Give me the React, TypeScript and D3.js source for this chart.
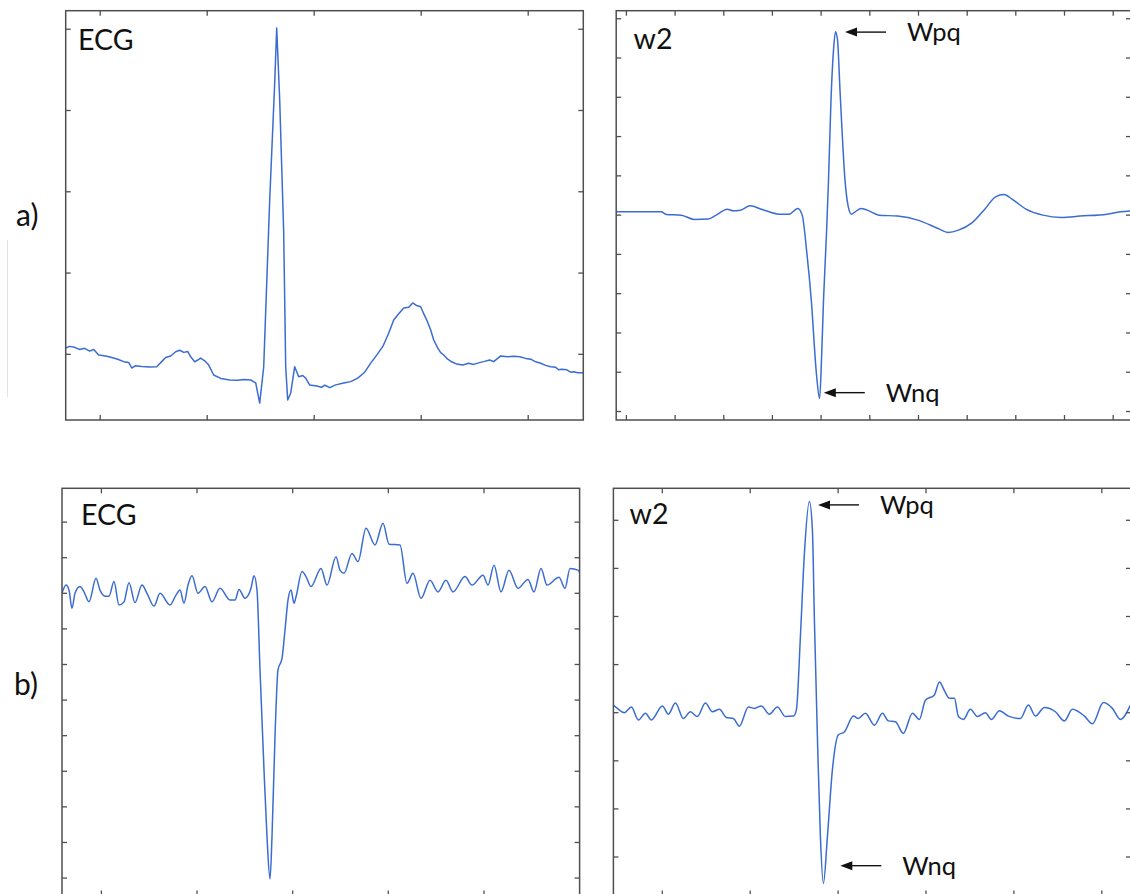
import React from 'react';
import * as d3 from 'd3';

// ---------- Data (sample index, amplitude) ----------
// Panel a) ECG (amplitude in mV)
const ecgA_t = [0,4,9,14,19,24,28,33,40,46,52,58,63,66,70,76,84,91,96,100,105,110,114,118,122,125,129,132,135,139,143,148,155,164,172,178,185,190,194,198,204,209,211,214,218,220,222,225,229,233,237,240,244,251,256,259,264,270,278,285,292,299,305,311,317,323,328,333,338,343,347,351,355,358,361,365,368,372,375,378,382,386,391,397,403,408,412,418,424,428,435,442,448,454,460,465,470,475,480,485,490,493,496,501,505,508,512,518];
const ecgA_v = [0.039,0.049,0.043,0.030,0.037,0.020,0.030,-0.004,-0.010,-0.020,-0.030,-0.045,-0.050,-0.084,-0.070,-0.075,-0.078,-0.076,-0.045,-0.020,-0.010,0.016,0.025,0.012,0.018,-0.015,-0.046,-0.035,-0.023,-0.040,-0.066,-0.127,-0.148,-0.158,-0.160,-0.155,-0.158,-0.176,-0.300,-0.078,0.950,1.670,2.008,1.565,0.746,-0.078,-0.281,-0.238,-0.076,-0.138,-0.130,-0.146,-0.189,-0.195,-0.203,-0.190,-0.205,-0.188,-0.177,-0.168,-0.146,-0.110,-0.054,-0.005,0.047,0.130,0.211,0.250,0.285,0.290,0.316,0.300,0.293,0.250,0.211,0.150,0.088,0.040,0.010,-0.004,-0.030,-0.046,-0.060,-0.066,-0.055,-0.062,-0.054,-0.045,-0.035,-0.045,-0.010,-0.015,-0.012,-0.015,-0.025,-0.030,-0.046,-0.055,-0.068,-0.076,-0.080,-0.095,-0.092,-0.095,-0.110,-0.107,-0.113,-0.113];
const ecgA_xTicks = [34.5,141.5,248.5,355.5,462.5];
const ecgA_yTicks = [0,0.5,1,1.5,2];

// Panel a) w2 wavelet detail
const w2A_t = [0,45,50,65,78,92,100,111,117,124,134,146,163,173,181.6,186,190.7,195.1,200.2,203.4,205.3,207.3,210.3,212.3,214.8,217.3,219.3,221.3,223.8,225.8,228.8,231.8,235.3,239,244.8,250.9,262.7,281.3,301.6,321.9,332,342.2,355.7,369.2,379.3,387.8,396.2,409.8,426.7,445.3,463.8,490.9,504.4,514.8];
const w2A_v = [0.084,0.084,0.018,0,-0.11,-0.10,0,0.153,0.11,0.127,0.237,0.145,0.025,0.025,0.171,0,-0.976,-2.166,-4.033,-4.67,-3.69,-2.17,-0.46,0.89,2.93,4.20,4.67,4.46,3.18,2.17,0.89,0.25,0.025,0.084,0.171,0.127,0,-0.025,-0.127,-0.339,-0.44,-0.382,-0.196,0.171,0.466,0.527,0.40,0.153,0,-0.059,-0.025,0.025,0.084,0.11];
const w2A_xTicks = [10.2,58.9,107.6,156.2,204.9,253.6,302.3,351,399.6,448.3,497];
const w2A_yTicks = [-5,-4,-3,-2,-1,0,1,2,3,4,5];

// Panel b) ECG
const ecgB_t = [0,4,7,10,13,18,22,27,34,38,43,47,52,57,62,67,73,80,85,92,98,108,114,118,122,126,130,136,143,150,158,168,173,177,183,189,192,195,198,202,205,208,210,213,216,220,223,226,229,232,234,240,244,249,259,265,274,278,282,290,296,304,313,321,327,338,345,351,359,368,376,384,391,403,410,421,426,432,439,447,456,466,472,479,485,497,503,508,516,518];
const ecgB_v = [0,0.23,0.09,-0.42,0,0.19,0.04,-0.24,0.42,0.09,-0.08,-0.08,0.33,-0.33,-0.24,0.30,-0.26,0.23,0,-0.36,0,-0.33,-0.05,0.09,-0.28,0.23,0.49,0,0.19,-0.24,0.14,-0.19,-0.19,0.11,-0.14,0.14,0.49,0.09,-2.15,-4.96,-6.84,-8.03,-6.84,-4.03,-2.15,-1.83,-1.03,-0.19,0.09,-0.28,-0.10,0.61,0.47,0.19,0.70,0.23,1.03,0.65,0.56,1.12,0.89,1.83,1.36,1.97,1.38,1.36,0.28,0.56,-0.14,0.37,0.04,0.37,0.04,0.47,0.23,0.51,0.23,0.79,0.04,0.65,0.14,0.39,0.04,0.70,0.23,0.45,0.14,0.70,0.65,0.56];
const ecgB_xTicks = [39.4,135,230.7,326.3,422];
const ecgB_yTicks = [-8,-7,-6,-5,-4,-3,-2,-1,0,1,2];

// Panel b) w2 wavelet detail
const w2B_t = [0,4,11,18,25,32,38,49,55,62,70,77,84,92,99,106,113,120,126,135,141,148,156,164,172,180,183,187,191,196,199,201,204,207,210,214,219,225,231,240,245,252,261,269,275,282,290,299,306,312,321,326,331,336,341,345,350,357,364,372,378,386,395,407,415,422,431,442,451,459,471,479,490,499,507,517];
const w2B_v = [0.16,0.09,0,0.12,-0.15,-0.01,-0.15,0.14,-0.03,0.20,-0.12,0.02,-0.08,0.20,0.02,0.07,-0.10,-0.12,-0.28,0.12,0.09,0.14,-0.03,0.12,-0.08,-0.07,0.06,1.58,3.31,4.39,3.80,1.93,-0.50,-2.58,-3.55,-2.58,-1.19,-0.46,-0.40,-0.07,-0.12,-0.01,-0.26,-0.01,-0.17,-0.19,-0.43,-0.01,-0.14,0.26,0.37,0.64,0.46,0.30,0.30,-0.08,-0.14,0.07,-0.08,0,-0.14,0.04,-0.07,-0.12,0.16,-0.07,0.11,0.02,-0.17,0.07,-0.07,-0.23,0.21,0.09,-0.14,0.16];
const w2B_xTicks = [48.9,136.8,224.7,312.6,400.5,488.4];
const w2B_yTicks = [-3,-2,-1,0,1,2,3,4];

// Annotation tips (data coordinates)
const annA = [
  { text: 'Wpq', t: 228.8, v: 4.66 },
  { text: 'Wnq', t: 207.6, v: -4.52 },
];
const annB = [
  { text: 'Wpq', t: 204.6, v: 4.32 },
  { text: 'Wnq', t: 226.9, v: -3.18 },
];

const FONT = "Lato, 'Open Sans', sans-serif";
const FRAME = '#4f4f4f';
const LINE = '#3a6cd2';
const TICK = 5;

type Panel = {
  key: string;
  x0: number; x1: number; y0: number; y1: number;
  xDomain: [number, number]; yDomain: [number, number];
  xTicks: number[]; yTicks: number[];
  t: number[]; v: number[];
  curve: any;
  label: string; labelX: number; labelY: number;
  ann?: { text: string; t: number; v: number }[];
};

const panels: Panel[] = [
  { key: 'ecgA', x0: 65.7, x1: 583.3, y0: 10.7, y1: 420, xDomain: [0, 517.6], yDomain: [-0.404, 2.114],
    xTicks: ecgA_xTicks, yTicks: ecgA_yTicks, t: ecgA_t, v: ecgA_v, curve: d3.curveLinear,
    label: 'ECG', labelX: 78, labelY: 50 },
  { key: 'w2A', x0: 616.2, x1: 1131, y0: 10.7, y1: 420, xDomain: [0, 514.8], yDomain: [-5.216, 5.205],
    xTicks: w2A_xTicks, yTicks: w2A_yTicks, t: w2A_t, v: w2A_v, curve: d3.curveMonotoneX,
    label: 'w2', labelX: 633.5, labelY: 48.5, ann: annA },
  { key: 'ecgB', x0: 62, x1: 579.6, y0: 488.3, y1: 895.5, xDomain: [0, 517.6], yDomain: [-8.49, 2.95],
    xTicks: ecgB_xTicks, yTicks: ecgB_yTicks, t: ecgB_t, v: ecgB_v, curve: d3.curveMonotoneX,
    label: 'ECG', labelX: 81, labelY: 524.5 },
  { key: 'w2B', x0: 613.4, x1: 1131, y0: 488.3, y1: 895.5, xDomain: [0, 517.6], yDomain: [-3.80, 4.665],
    xTicks: w2B_xTicks, yTicks: w2B_yTicks, t: w2B_t, v: w2B_v, curve: d3.curveMonotoneX,
    label: 'w2', labelX: 629.6, labelY: 524, ann: annB },
];

function PanelView({ p }: { p: Panel }) {
  const xs = d3.scaleLinear().domain(p.xDomain).range([p.x0, p.x1]);
  const ys = d3.scaleLinear().domain(p.yDomain).range([p.y1, p.y0]);
  const pts: [number, number][] = p.t.map((t, i) => [t, p.v[i]]);
  const line = d3.line<[number, number]>().x(d => xs(d[0])).y(d => ys(d[1])).curve(p.curve);
  const clipId = `clip-${p.key}`;
  return (
    <g>
      <defs>
        <clipPath id={clipId}>
          <rect x={p.x0} y={p.y0} width={p.x1 - p.x0} height={p.y1 - p.y0} />
        </clipPath>
      </defs>
      <path d={line(pts) || ''} fill="none" stroke={LINE} strokeWidth={1.5} strokeLinejoin="round" clipPath={`url(#${clipId})`} />
      <rect x={p.x0} y={p.y0} width={p.x1 - p.x0} height={p.y1 - p.y0} fill="none" stroke={FRAME} strokeWidth={1.5} />
      {p.xTicks.map(t => (
        <g key={`x${t}`}>
          <line x1={xs(t)} x2={xs(t)} y1={p.y1} y2={p.y1 - TICK} stroke={FRAME} strokeWidth={1.3} />
          <line x1={xs(t)} x2={xs(t)} y1={p.y0} y2={p.y0 + TICK} stroke={FRAME} strokeWidth={1.3} />
        </g>
      ))}
      {p.yTicks.map(v => (
        <g key={`y${v}`}>
          <line x1={p.x0} x2={p.x0 + TICK} y1={ys(v)} y2={ys(v)} stroke={FRAME} strokeWidth={1.3} />
          <line x1={p.x1} x2={p.x1 - TICK} y1={ys(v)} y2={ys(v)} stroke={FRAME} strokeWidth={1.3} />
        </g>
      ))}
      <text x={p.labelX} y={p.labelY} fontFamily={FONT} fontSize={28.5} fill="#111">{p.label}</text>
      {(p.ann || []).map(a => {
        const tx = xs(a.t);
        const ty = ys(a.v);
        const len = 41;
        return (
          <g key={a.text}>
            <line x1={tx + 10} x2={tx + len} y1={ty} y2={ty} stroke="#111" strokeWidth={1.4} />
            <path d={`M${tx},${ty} L${tx + 12},${ty - 4.5} L${tx + 12},${ty + 4.5} Z`} fill="#111" />
            <text x={tx + len + 21} y={ty + 9} fontFamily={FONT} fontSize={25.5} fill="#111">{a.text}</text>
          </g>
        );
      })}
    </g>
  );
}

export default function App() {
  return (
    <svg width={1130} height={894} style={{ position: 'absolute', left: 0, top: 0, background: '#fff' }}>
      <rect x={0} y={0} width={1130} height={894} fill="#fff" />
      <line x1={7.5} x2={7.5} y1={240} y2={397} stroke="#e2e2e2" strokeWidth={1} />
      <text x={16} y={226} fontFamily={FONT} fontSize={30} fill="#111">a)</text>
      <text x={14} y={695} fontFamily={FONT} fontSize={30} fill="#111">b)</text>
      {panels.map(p => <PanelView key={p.key} p={p} />)}
    </svg>
  );
}
